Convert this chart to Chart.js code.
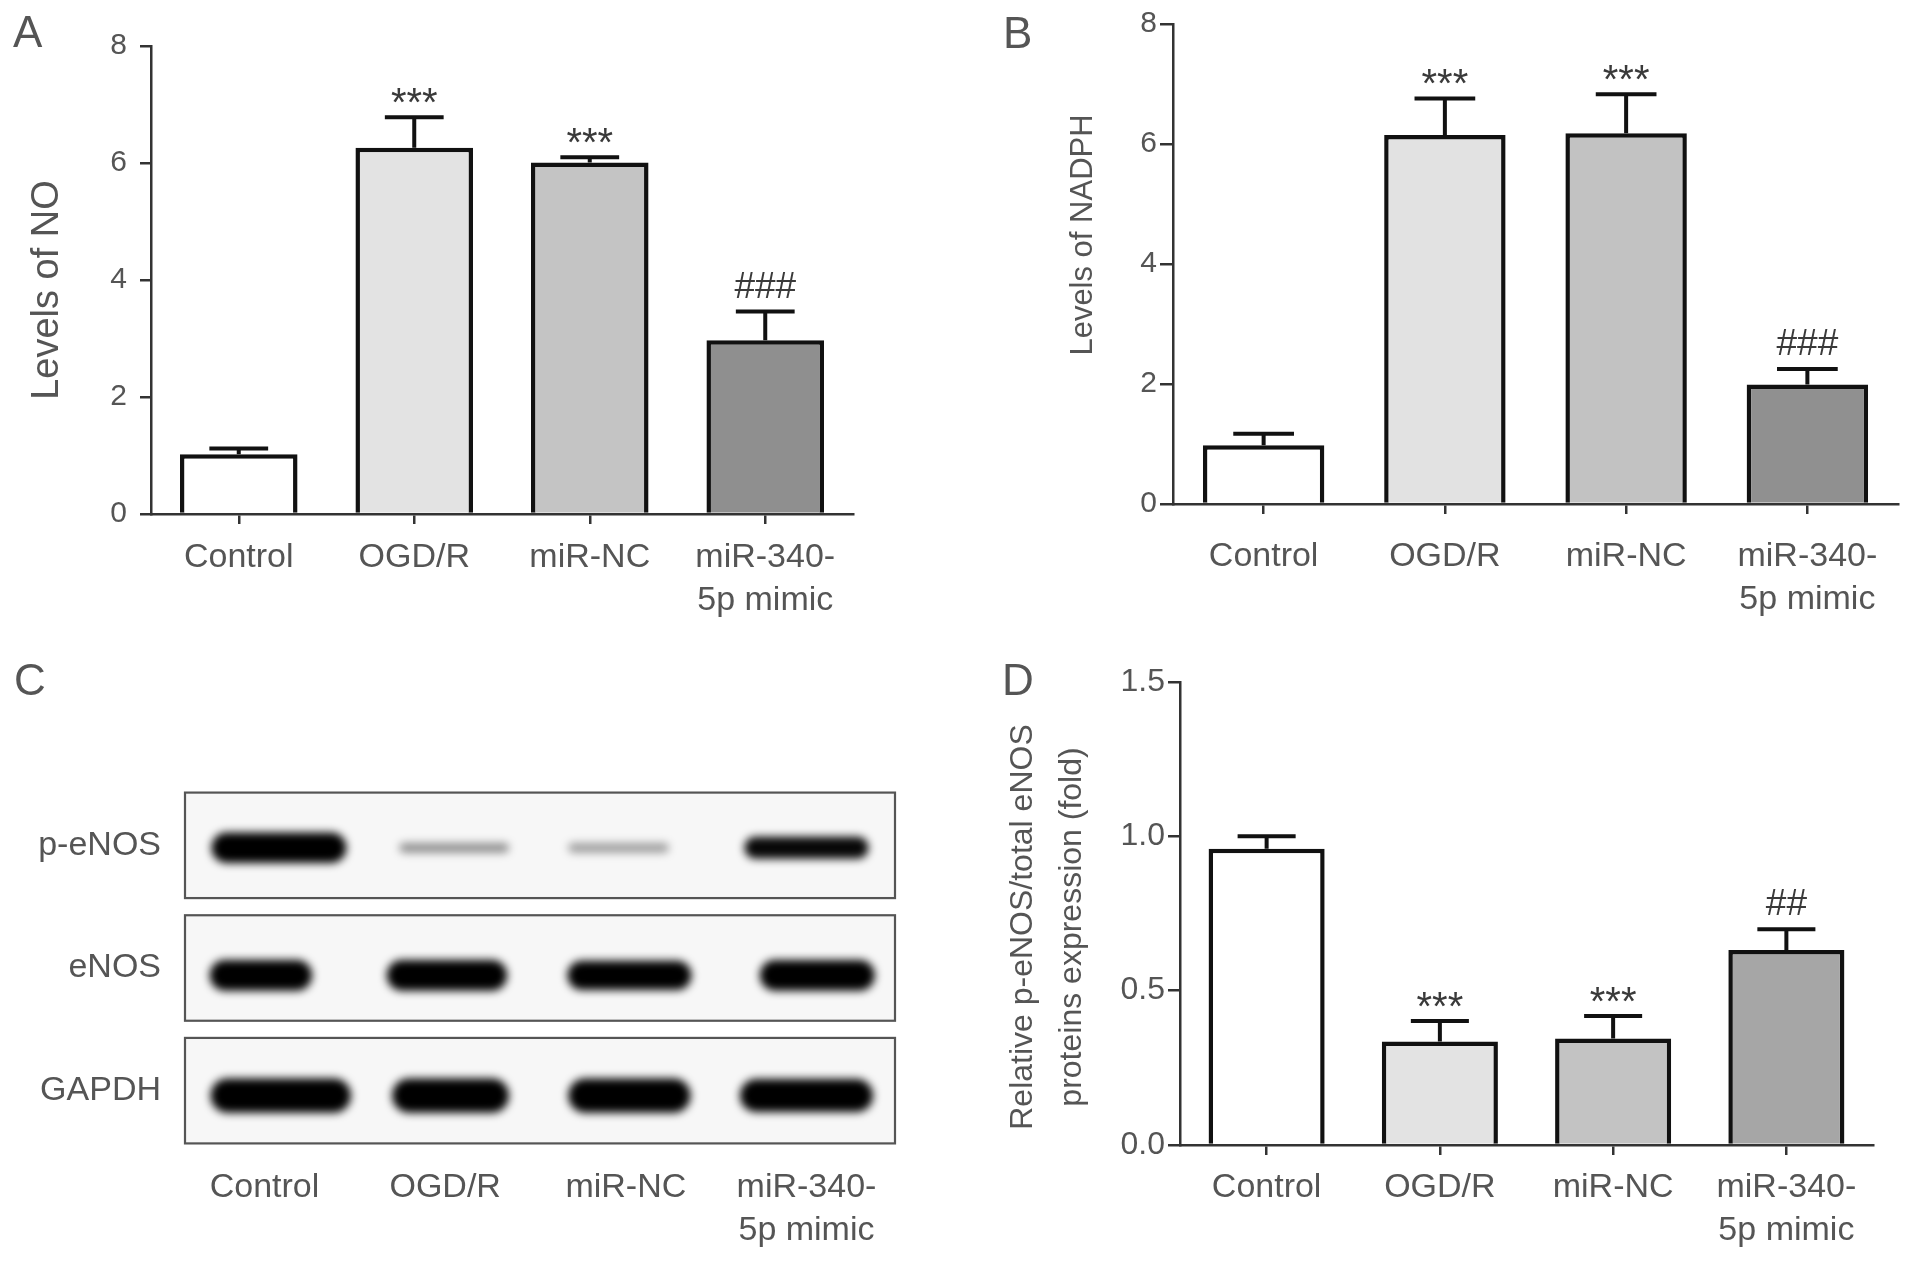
<!DOCTYPE html>
<html>
<head>
<meta charset="utf-8">
<script src="https://cdn.jsdelivr.net/npm/chart.js@4.4.1/dist/chart.umd.min.js"></script>
<style>
html,body{margin:0;padding:0;background:#fff;}
#wrap{position:relative;width:1913px;height:1261px;overflow:hidden;background:#fff;}
canvas{position:absolute;}
</style>
</head>
<body>
<div id="wrap">
<canvas id="cA" width="900" height="640" style="left:0px;top:0px;width:900px;height:640px"></canvas>
<canvas id="cB" width="953" height="640" style="left:960px;top:0px;width:953px;height:640px"></canvas>
<canvas id="cC" width="960" height="621" style="left:0px;top:640px;width:960px;height:621px"></canvas>
<canvas id="cD" width="953" height="621" style="left:960px;top:640px;width:953px;height:621px"></canvas>
</div>
<script>
// ---------------- DATA ----------------
const categories = ['Control', 'OGD/R', 'miR-NC', 'miR-340-5p mimic'];
const categoryTickLabels = ['Control', 'OGD/R', 'miR-NC', ['miR-340-', '5p mimic']];

const noMeans   = [1.02, 6.26, 6.01, 2.97];
const noErrors  = [0.10, 0.52, 0.09, 0.49];
const noSig     = ['', '***', '***', '###'];

const nadphMeans  = [0.98, 6.15, 6.18, 1.99];
const nadphErrors = [0.19, 0.61, 0.65, 0.26];
const nadphSig    = ['', '***', '***', '###'];

const ratioMeans  = [0.96, 0.335, 0.345, 0.632];
const ratioErrors = [0.04, 0.067, 0.073, 0.067];
const ratioSig    = ['', '***', '***', '##'];

const levelTicks = [0, 2, 4, 6, 8];
const ratioTicks = [0, 0.5, 1.0, 1.5];

const blotRows = ['p-eNOS', 'eNOS', 'GAPDH'];
const pENOSDensity = [1.0, 0.42, 0.36, 0.97];
const eNOSDensity  = [1.0, 1.0, 1.0, 1.0];
const gapdhDensity = [1.0, 1.0, 1.0, 1.0];

// ---------------- STYLE ----------------
const FONT = "'Liberation Sans', Arial, Helvetica, sans-serif";
const TEXT = '#555';
const AXIS = '#333';
Chart.defaults.font.family = FONT;
Chart.defaults.color = TEXT;

// band geometry (lane / row units), kept apart from the data
const bandShape = {
  'p-eNOS': {dy: 0.02, shift: [0.08, 0.05, -0.04, 0.0],  width: [0.78, 0.64, 0.59, 0.72], height: [0.29, 0.12, 0.12, 0.22]},
  'eNOS':   {dy: 0.06, shift: [-0.02, 0.01, 0.02, 0.06], width: [0.60, 0.70, 0.72, 0.67], height: [0.29, 0.29, 0.28, 0.29]},
  'GAPDH':  {dy: 0.04, shift: [0.09, 0.03, 0.02, 0.0],   width: [0.81, 0.68, 0.71, 0.77], height: [0.32, 0.32, 0.32, 0.31]}
};

// ---------------- PLUGINS ----------------
const annotPlugin = {
  id: 'annot',
  afterDraw(chart, args, o) {
    const ctx = chart.ctx;
    ctx.save();
    ctx.fillStyle = TEXT;
    if (o.letter) {
      ctx.font = '44px ' + FONT;
      ctx.textAlign = 'left';
      ctx.textBaseline = 'alphabetic';
      ctx.fillText(o.letter.text, o.letter.x, o.letter.y);
    }
    if (o.ytitle) {
      const t = o.ytitle;
      ctx.translate(t.x, t.y);
      ctx.rotate(-Math.PI / 2);
      ctx.font = t.size + 'px ' + FONT;
      ctx.textAlign = 'center';
      ctx.textBaseline = 'middle';
      const n = t.lines.length;
      t.lines.forEach((l, k) => ctx.fillText(l, 0, (k - (n - 1) / 2) * (t.gap || 0)));
    }
    ctx.restore();
  }
};

const errPlugin = {
  id: 'errbars',
  afterDatasetsDraw(chart, args, o) {
    if (!o.errors) return;
    const ctx = chart.ctx, ys = chart.scales.y;
    const meta = chart.getDatasetMeta(0);
    const ds = chart.data.datasets[0];
    ctx.save();
    meta.data.forEach((bar, i) => {
      const v = ds.data[i], e = o.errors[i];
      const yTop = ys.getPixelForValue(v + e);
      const cap = bar.width * 0.25;
      ctx.strokeStyle = '#111';
      ctx.lineWidth = 4;
      ctx.lineCap = 'butt';
      ctx.beginPath();
      ctx.moveTo(bar.x, bar.y);
      ctx.lineTo(bar.x, yTop);
      ctx.moveTo(bar.x - cap, yTop);
      ctx.lineTo(bar.x + cap, yTop);
      ctx.stroke();
      const s = o.sig[i];
      if (s) {
        ctx.fillStyle = '#3a3a3a';
        ctx.textAlign = 'center';
        ctx.textBaseline = 'alphabetic';
        if (s[0] === '*') {
          ctx.font = '40px ' + FONT;
          ctx.fillText(s, bar.x, yTop - 1);
        } else {
          ctx.font = '37px ' + FONT;
          ctx.fillText(s, bar.x, yTop - 14);
        }
      }
    });
    ctx.restore();
  }
};

function pill(ctx, x, y, w, h) {
  const r = Math.min(h / 2, w / 2);
  ctx.beginPath();
  ctx.moveTo(x + r, y);
  ctx.lineTo(x + w - r, y);
  ctx.arc(x + w - r, y + r, r, -Math.PI / 2, Math.PI / 2);
  ctx.lineTo(x + r, y + h);
  ctx.arc(x + r, y + r, r, Math.PI / 2, 3 * Math.PI / 2);
  ctx.closePath();
}

const blotPlugin = {
  id: 'blot',
  beforeDatasetsDraw(chart) {
    const {ctx, chartArea: ca} = chart;
    const ys = chart.scales.y, xs = chart.scales.x;
    const pitch = Math.abs(ys.getPixelForValue(1) - ys.getPixelForValue(0));
    const lane = Math.abs(xs.getPixelForValue(1) - xs.getPixelForValue(0));
    ctx.save();
    blotRows.forEach((row, r) => {
      const cy = ys.getPixelForValue(r);
      const h = pitch * 0.86;
      ctx.fillStyle = '#f7f7f7';
      ctx.fillRect(ca.left, cy - h / 2, ca.right - ca.left, h);
      ctx.lineWidth = 2.2;
      ctx.strokeStyle = '#555';
      ctx.strokeRect(ca.left, cy - h / 2, ca.right - ca.left, h);
    });
    chart.data.datasets.forEach((ds, di) => {
      const meta = chart.getDatasetMeta(di);
      const shape = bandShape[ds.label];
      meta.data.forEach((pt, i) => {
        const w = shape.width[i] * lane - 6;
        const hh = shape.height[i] * pitch - 5;
        const cy = pt.y + shape.dy * pitch;
        ctx.save();
        ctx.filter = 'blur(4px)';
        ctx.globalAlpha = ds.density[i];
        ctx.fillStyle = '#000';
        pill(ctx, pt.x - w / 2, cy - hh / 2, w, hh);
        ctx.fill();
        ctx.restore();
      });
    });
    ctx.restore();
  }
};

// ---------------- BAR CHART FACTORY ----------------
function barChart(id, means, errs, sig, colors, g) {
  return new Chart(document.getElementById(id), {
    type: 'bar',
    data: {
      labels: categoryTickLabels,
      datasets: [{
        data: means,
        backgroundColor: colors,
        borderColor: '#111',
        borderWidth: 4.5,
        barPercentage: 0.67,
        categoryPercentage: 1.0
      }]
    },
    options: {
      responsive: false,
      animation: false,
      devicePixelRatio: 1,
      layout: {padding: {left: 0, top: g.top, right: g.right, bottom: 0}},
      plugins: {
        legend: {display: false},
        tooltip: {enabled: false},
        errbars: {errors: errs, sig: sig},
        annot: {letter: g.letter, ytitle: g.ytitle}
      },
      scales: {
        x: {
          type: 'category',
          offset: true,
          afterFit: s => { s.height = g.xHeight; },
          grid: {offset: false, drawOnChartArea: false, drawTicks: true, tickLength: 10, color: AXIS, lineWidth: 2.5},
          border: {display: true, color: AXIS, width: 2.5},
          ticks: {font: {size: 34, lineHeight: 1.24}, color: TEXT, padding: g.xPad, maxRotation: 0, autoSkip: false}
        },
        y: {
          min: 0,
          max: g.yTicks[g.yTicks.length - 1],
          afterFit: s => { s.width = g.yWidth; },
          afterBuildTicks: s => { s.ticks = g.yTicks.map(v => ({value: v})); },
          grid: {drawOnChartArea: false, drawTicks: true, tickLength: g.tickLen, color: AXIS, lineWidth: 2.5},
          border: {display: true, color: AXIS, width: 2.5},
          ticks: {font: {size: g.yFont}, color: TEXT, padding: g.yPad, callback: g.fmt}
        }
      }
    },
    plugins: [errPlugin, annotPlugin]
  });
}

barChart('cA', noMeans, noErrors, noSig,
  ['#ffffff', '#e3e3e3', '#c4c4c4', '#8f8f8f'],
  {top: 46, right: 47, yWidth: 151, xHeight: 126, xPad: 13, yPad: 13, tickLen: 11, yFont: 30,
   yTicks: levelTicks, fmt: v => String(v),
   letter: {text: 'A', x: 13, y: 47},
   ytitle: {lines: ['Levels of NO'], x: 48, y: 290, size: 38}});

barChart('cB', nadphMeans, nadphErrors, nadphSig,
  ['#ffffff', '#e2e2e2', '#c2c2c2', '#909090'],
  {top: 24, right: 15, yWidth: 213, xHeight: 136, xPad: 22, yPad: 3, tickLen: 13, yFont: 30,
   yTicks: levelTicks, fmt: v => String(v),
   letter: {text: 'B', x: 43, y: 48},
   ytitle: {lines: ['Levels of NADPH'], x: 123, y: 235, size: 31}});

barChart('cD', ratioMeans, ratioErrors, ratioSig,
  ['#ffffff', '#e3e3e3', '#c3c3c3', '#a6a6a6'],
  {top: 42, right: 40, yWidth: 220, xHeight: 116, xPad: 12, yPad: 3, tickLen: 12, yFont: 32,
   yTicks: ratioTicks, fmt: v => Number(v).toFixed(1),
   letter: {text: 'D', x: 42, y: 55},
   ytitle: {lines: ['Relative p-eNOS/total eNOS', 'proteins expression (fold)'], x: 87.5, y: 287, size: 32, gap: 49}});

// ---------------- WESTERN BLOT PANEL ----------------
const densities = {'p-eNOS': pENOSDensity, 'eNOS': eNOSDensity, 'GAPDH': gapdhDensity};
new Chart(document.getElementById('cC'), {
  type: 'scatter',
  data: {
    datasets: blotRows.map(row => ({
      label: row,
      density: densities[row],
      data: categories.map((c, i) => ({x: i + bandShape[row].shift[i], y: row})),
      pointRadius: 0,
      pointHoverRadius: 0
    }))
  },
  options: {
    responsive: false,
    animation: false,
    devicePixelRatio: 1,
    layout: {padding: {left: 0, top: 144, right: 65, bottom: 0}},
    plugins: {
      legend: {display: false},
      tooltip: {enabled: false},
      annot: {letter: {text: 'C', x: 14, y: 55}}
    },
    scales: {
      x: {
        type: 'linear',
        min: -0.44,
        max: 3.49,
        afterFit: s => { s.height = 109; },
        afterBuildTicks: s => { s.ticks = categories.map((c, i) => ({value: i})); },
        grid: {display: false, drawTicks: false},
        border: {display: false},
        ticks: {font: {size: 34, lineHeight: 1.24}, color: TEXT, padding: 15, maxRotation: 0, autoSkip: false,
                callback: v => categoryTickLabels[v]}
      },
      y: {
        type: 'category',
        labels: blotRows,
        offset: true,
        afterFit: s => { s.width = 185; },
        grid: {display: false, drawTicks: false},
        border: {display: false},
        ticks: {font: {size: 34}, color: TEXT, padding: 24}
      }
    }
  },
  plugins: [blotPlugin, annotPlugin]
});
</script>
</body>
</html>
